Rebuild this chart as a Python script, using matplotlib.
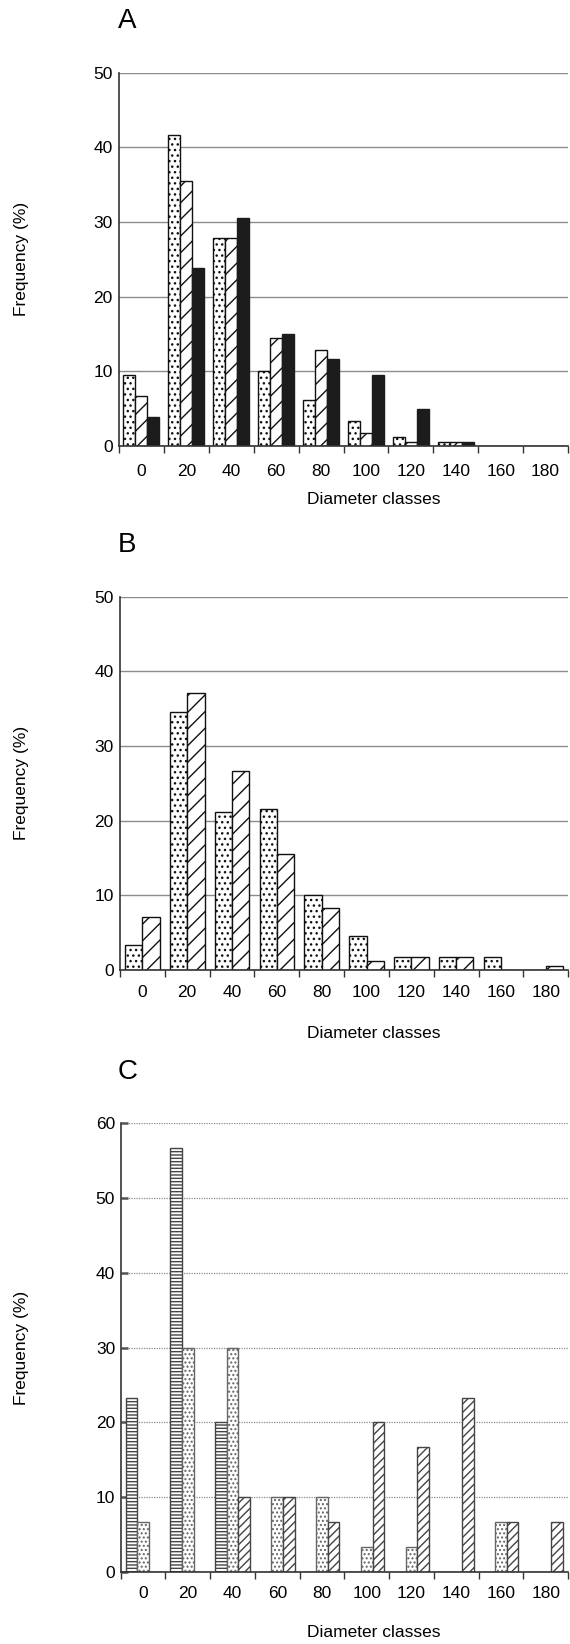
import numpy as np
import matplotlib
matplotlib.use("Agg")
import matplotlib.pyplot as plt

plt.rcParams["font.family"] = ["Liberation Sans", "DejaVu Sans"]
plt.rcParams["hatch.linewidth"] = 1.0

# diameter classes (x axis)
classes = [0, 20, 40, 60, 80, 100, 120, 140, 160, 180]

# panel A: three series
a_dot = [9.5, 41.6, 27.8, 10.0, 6.2, 3.4, 1.2, 0.5, 0, 0]
a_hatch = [6.7, 35.5, 27.8, 14.5, 12.8, 1.7, 0.5, 0.5, 0, 0]
a_black = [3.9, 23.9, 30.5, 15.0, 11.7, 9.5, 5.0, 0.5, 0, 0]

# panel B: two series
b_dot = [3.3, 34.5, 21.2, 21.6, 10.0, 4.5, 1.7, 1.7, 1.7, 0]
b_hatch = [7.1, 37.1, 26.6, 15.5, 8.3, 1.2, 1.7, 1.7, 0, 0.5]

# panel C: three series
c_lines = [23.3, 56.7, 20.0, 0, 0, 0, 0, 0, 0, 0]
c_dot = [6.7, 30.0, 30.0, 10.0, 10.0, 3.3, 3.3, 0, 6.7, 0]
c_hatch = [0, 0, 10.0, 10.0, 6.7, 20.0, 16.7, 23.3, 6.7, 6.7]

W, H = 570, 1644
fig = plt.figure(figsize=(W / 100, H / 100), dpi=100)
fs = 12.5
spine_col = "#333333"


def px_rect(left, top, right, bottom):
    return [left / W, 1 - bottom / H, (right - left) / W, (bottom - top) / H]


def setup(ax, ymax, step, label_pad, dotted=False):
    x = np.arange(len(classes))
    ax.set_xlim(-0.5, len(classes) - 0.5)
    ax.set_ylim(0, ymax)
    for s in ["top", "right"]:
        ax.spines[s].set_visible(False)
    for s in ["left", "bottom"]:
        ax.spines[s].set_color(spine_col)
        ax.spines[s].set_linewidth(1.2)
    ax.set_xticks(np.arange(len(classes) + 1) - 0.5)
    ax.set_xticklabels([])
    ax.set_xticks(x, minor=True)
    ax.set_xticklabels([str(c) for c in classes], minor=True, fontsize=fs)
    ax.tick_params(axis="x", which="major", length=5, width=1.0,
                   color=spine_col, direction="out")
    ax.tick_params(axis="x", which="minor", length=0, pad=label_pad)
    ax.set_yticks(np.arange(0, ymax + 1, step))
    ax.set_yticklabels([str(v) for v in np.arange(0, ymax + 1, step)], fontsize=fs)
    if dotted:
        ax.tick_params(axis="y", length=5, width=1.8, color="#555555",
                       direction="in", pad=4)
        ax.yaxis.grid(True, color="#8a8a8a", linestyle=(0, (1, 1)), linewidth=0.9)
    else:
        ax.tick_params(axis="y", length=0, pad=4.5)
        ax.yaxis.grid(True, color="#8c8c8c", linewidth=1.0)
    ax.set_axisbelow(True)
    return x


# ---- A ----
axA = fig.add_axes(px_rect(119, 72.7, 568, 446))
x = setup(axA, 50, 10, 13)
w = 0.2667
axA.bar(x - w, a_dot, w, facecolor="white", edgecolor="#111111", hatch="...", linewidth=1)
axA.bar(x, a_hatch, w, facecolor="white", edgecolor="#111111", hatch="//", linewidth=1)
axA.bar(x + w, a_black, w, facecolor="#1c1c1c", edgecolor="#1c1c1c", linewidth=1)

# ---- B ----
axB = fig.add_axes(px_rect(120, 596.7, 568.3, 970))
x = setup(axB, 50, 10, 10.8)
w = 0.385
axB.bar(x - w / 2, b_dot, w, facecolor="white", edgecolor="#111111", hatch="...", linewidth=1)
axB.bar(x + w / 2, b_hatch, w, facecolor="white", edgecolor="#111111", hatch="//", linewidth=1)

# ---- C ----
axC = fig.add_axes(px_rect(120.7, 1123.3, 568, 1571.7))
x = setup(axC, 60, 10, 10.3, dotted=True)
w = 0.26
axC.bar(x - w, c_lines, w, facecolor="white", edgecolor="#444444", hatch="-----", linewidth=1)
axC.bar(x, c_dot, w, facecolor="white", edgecolor="#666666", hatch="....", linewidth=1)
axC.bar(x + w, c_hatch, w, facecolor="white", edgecolor="#444444", hatch="////", linewidth=1)

# panel letters and axis titles
for letter, base, xl_base, yc in [("A", 28, 504, 259.4),
                                  ("B", 552, 1038, 783.3),
                                  ("C", 1078.6, 1637, 1347.5)]:
    fig.text(118 / W, 1 - base / H, letter, fontsize=20, ha="left", va="baseline")
    fig.text(374 / W, 1 - xl_base / H, "Diameter classes", fontsize=fs,
             ha="center", va="baseline")
    fig.text(22 / W, 1 - yc / H, "Frequency (%)", fontsize=fs, rotation=90,
             ha="center", va="center")

fig.savefig("out.png", dpi=100)
